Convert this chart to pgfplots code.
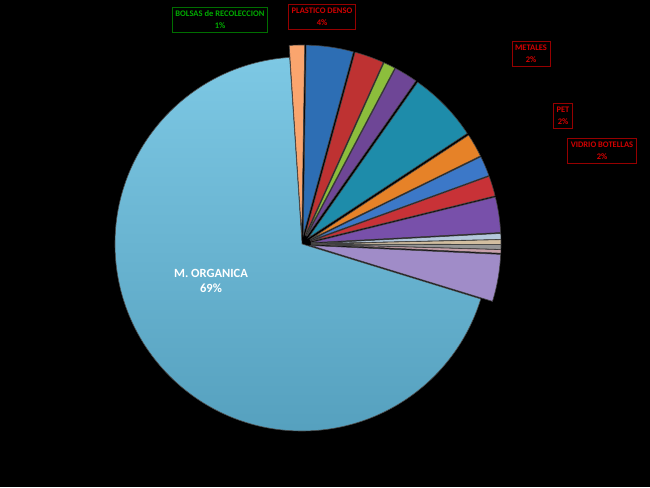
\documentclass[border=0pt]{standalone}
\usepackage{fontspec}
\setmainfont{Carlito}
\usepackage{pgfplots}
\pgfplotsset{compat=1.18}
\definecolor{cmainT}{RGB}{125,200,228}
\definecolor{cmainB}{RGB}{85,160,190}
\definecolor{cpeach}{RGB}{250,165,110}
\definecolor{cblue}{RGB}{45,110,180}
\definecolor{cred}{RGB}{190,50,50}
\definecolor{cgreen}{RGB}{140,190,60}
\definecolor{cpurple}{RGB}{110,70,150}
\definecolor{cteal}{RGB}{30,140,170}
\definecolor{corange}{RGB}{230,130,40}
\definecolor{cblueb}{RGB}{60,120,200}
\definecolor{credb}{RGB}{200,50,55}
\definecolor{cpurpleb}{RGB}{120,80,170}
\definecolor{cgrayblue}{RGB}{180,200,220}
\definecolor{cbeige}{RGB}{210,190,160}
\definecolor{cgray}{RGB}{150,150,150}
\definecolor{cpink}{RGB}{200,160,170}
\definecolor{clav}{RGB}{160,140,200}
\definecolor{lblred}{RGB}{210,0,0}
\definecolor{lblredb}{RGB}{150,0,0}
\definecolor{lblgreen}{RGB}{0,170,0}
\definecolor{lblgreenb}{RGB}{0,110,0}
\begin{document}
\begin{tikzpicture}
\begin{axis}[x=1pt,y=1pt,xmin=0,xmax=650,ymin=0,ymax=487,
  hide axis,scale only axis,clip=false]
\addplot[draw=none,fill=black] coordinates {(0,0)(650,0)(650,487)(0,487)} -- cycle;
\pgfplotsextra{
  \coordinate (O) at (axis cs:302,243);
  % main slice: 69.2 %
  \shade[top color=cmainT,bottom color=cmainB,draw=black!70,line width=0.6pt]
    (O) -- ++(93.8:187pt) arc[start angle=93.8,end angle=342.9,radius=187pt] -- cycle;
  % small slices, clockwise from the top (values in %)
  \foreach \v/\c [remember=\e as \s (initially 93.8)] in
    {1.3/cpeach,4.0/cblue,2.5/cred,1.0/cgreen,2.0/cpurple,6.0/cteal,
     2.0/corange,1.7/cblueb,1.7/credb,3.0/cpurpleb,0.5/cgrayblue,
     0.4/cbeige,0.4/cgray,0.3/cpink,4.0/clav} {
    \pgfmathsetmacro\e{\s-\v*3.6}
    \pgfmathsetmacro\m{(\s+\e)/2}
    \fill[\c,draw=black!75,line width=0.6pt] ([shift={(\m:9pt)}]O) -- ++(\e:190pt)
      arc[start angle=\e,end angle=\s,radius=190pt] -- cycle;
  }
  \node[text=white,font=\bfseries\fontsize{12.5}{15}\selectfont,align=center]
    at (axis cs:211,206) {M. ORGANICA\\69\%};
  \tikzset{lbl/.style={font=\bfseries\fontsize{8.5}{12}\selectfont,align=center,
    inner xsep=3pt,inner ysep=3.5pt,line width=0.8pt}}
  \node[lbl,draw=lblgreenb,text=lblgreen] at (axis cs:220,467) {BOLSAS de RECOLECCION\\1\%};
  \node[lbl,draw=lblredb,text=lblred] at (axis cs:322,470) {PLASTICO DENSO\\4\%};
  \node[lbl,draw=lblredb,text=lblred] at (axis cs:531,433) {METALES\\2\%};
  \node[lbl,draw=lblredb,text=lblred] at (axis cs:563,371) {PET\\2\%};
  \node[lbl,draw=lblredb,text=lblred] at (axis cs:602,336) {VIDRIO BOTELLAS\\2\%};
}
\end{axis}
\end{tikzpicture}
\end{document}
